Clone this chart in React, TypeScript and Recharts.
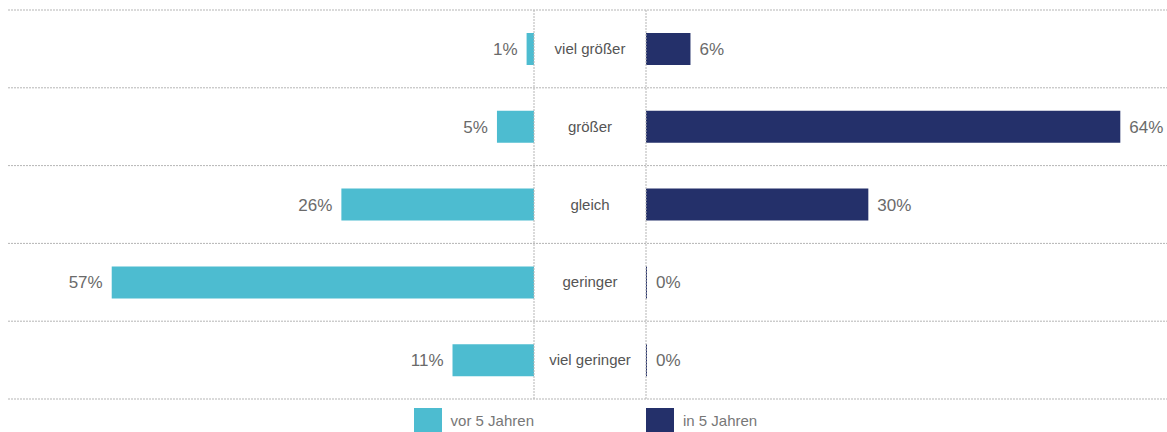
import React from 'react';
import { BarChart, Bar, XAxis, YAxis, CartesianGrid, ReferenceLine, LabelList } from 'recharts';

const categories = ['viel größer', 'größer', 'gleich', 'geringer', 'viel geringer'];
const vor5Jahren = [1, 5, 26, 57, 11];
const in5Jahren = [6, 64, 30, 0, 0];

const data = categories.map((name, i) => ({ name, vor: vor5Jahren[i], inn: in5Jahren[i] }));

const CYAN = '#4dbcd0';
const NAVY = '#24306a';
const GRID = '#b5b5b5';
const FONT = '"Liberation Sans", Arial, sans-serif';

const W = 1159;
const H = 391;
const LEFT_END = 526;
const RIGHT_START = 638;
const CENTER = (LEFT_END + RIGHT_START) / 2;

// grid lines on the category band boundaries of the plot area
const bandBoundaries = (args: any) => {
  const offset = args && args.offset ? args.offset : { top: 2, height: H - 2 };
  const n = categories.length;
  const pts: number[] = [];
  for (let i = 0; i <= n; i++) pts.push(offset.top + (offset.height * i) / n);
  return pts;
};

const categoryLabel = (props: any) => {
  const { y, height, value } = props;
  return (
    <text x={CENTER} y={y + height / 2} dy={5} textAnchor="middle" fontSize={15} fill="#555" fontFamily={FONT}>
      {value}
    </text>
  );
};

const leftLabel = (props: any) => {
  const { x, y, width, height, value } = props;
  const edge = Math.min(x, x + width);
  return (
    <text x={edge - 9} y={y + height / 2} dy={6} textAnchor="end" fontSize={17} fill="#6a6a6a" fontFamily={FONT}>
      {value}%
    </text>
  );
};

const rightLabel = (props: any) => {
  const { x, y, width, height, value } = props;
  const edge = Math.max(x, x + width);
  return (
    <text x={edge + 9} y={y + height / 2} dy={6} textAnchor="start" fontSize={17} fill="#6a6a6a" fontFamily={FONT}>
      {value}%
    </text>
  );
};

export default function App() {
  return (
    <div style={{ width: W, padding: '8px 0 0 8px', fontFamily: FONT }}>
      <style>{'html,body{margin:0;overflow:hidden} svg{overflow:visible}'}</style>
      <BarChart
        width={W}
        height={H}
        data={data}
        layout="vertical"
        margin={{ top: 2, right: 0, bottom: 0, left: 0 }}
        barGap={-32}
      >
        <CartesianGrid vertical={false} horizontalCoordinatesGenerator={bandBoundaries} stroke={GRID} strokeDasharray="2 1" />
        <XAxis xAxisId="left" type="number" domain={[0, 71]} reversed hide padding={{ left: 0, right: W - LEFT_END }} />
        <XAxis xAxisId="right" type="number" domain={[0, 70.3]} hide padding={{ left: RIGHT_START, right: 0 }} />
        <YAxis type="category" dataKey="name" hide />
        <ReferenceLine xAxisId="left" x={0} stroke={GRID} strokeDasharray="2 1" />
        <ReferenceLine xAxisId="right" x={0} stroke={GRID} strokeDasharray="2 1" />
        <Bar xAxisId="left" dataKey="vor" fill={CYAN} barSize={32} isAnimationActive={false}>
          <LabelList dataKey="vor" content={leftLabel} />
        </Bar>
        <Bar xAxisId="right" dataKey="inn" fill={NAVY} barSize={32} minPointSize={1} isAnimationActive={false}>
          <LabelList dataKey="inn" content={rightLabel} />
          <LabelList dataKey="name" content={categoryLabel} />
        </Bar>
      </BarChart>
      <div style={{ display: 'flex', marginTop: 9, height: 24, fontSize: 15, color: '#777' }}>
        <div style={{ width: LEFT_END, display: 'flex', justifyContent: 'flex-end', alignItems: 'center' }}>
          <span style={{ width: 28, height: 24, background: CYAN, display: 'inline-block', marginRight: 9 }} />
          <span>vor 5 Jahren</span>
        </div>
        <div style={{ marginLeft: RIGHT_START - LEFT_END, display: 'flex', alignItems: 'center' }}>
          <span style={{ width: 28, height: 24, background: NAVY, display: 'inline-block', marginRight: 9 }} />
          <span>in 5 Jahren</span>
        </div>
      </div>
    </div>
  );
}
